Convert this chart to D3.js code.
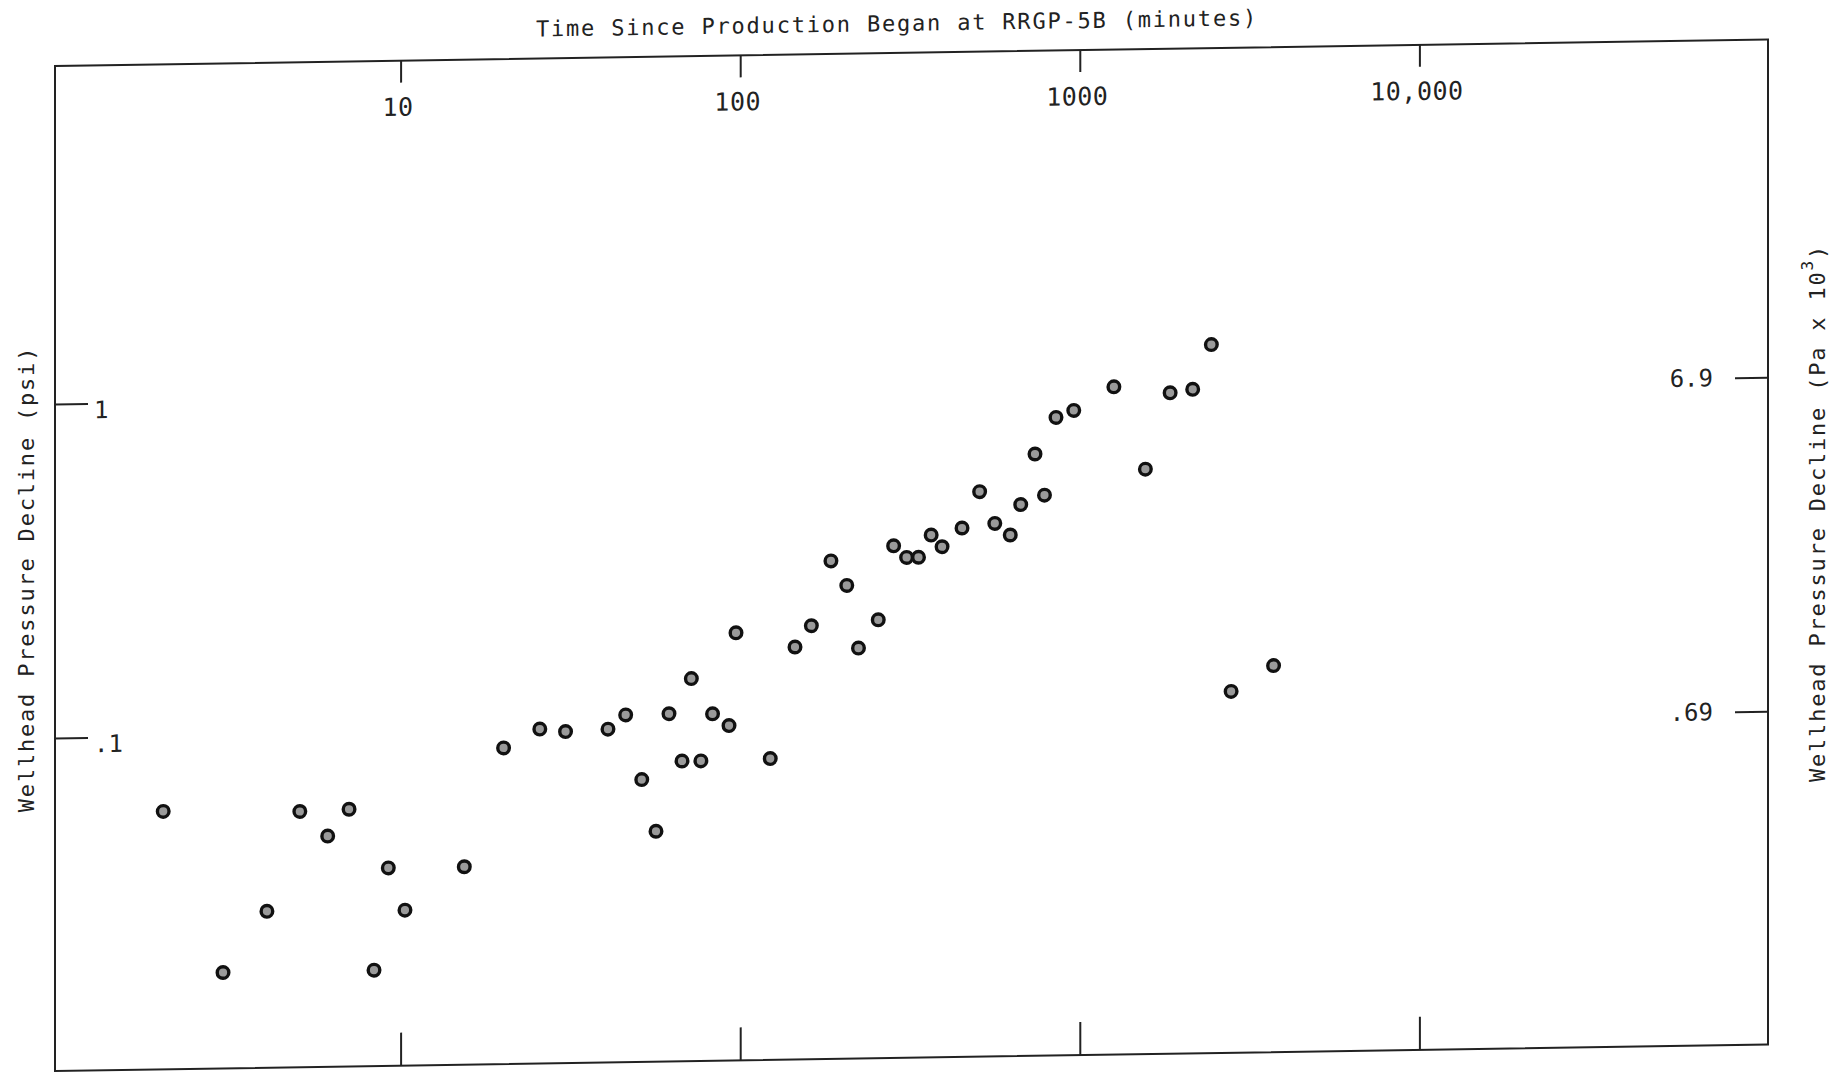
<!DOCTYPE html>
<html>
<head>
<meta charset="utf-8">
<script src="https://cdn.jsdelivr.net/npm/d3@7"></script>
<style>
  html, body { margin: 0; padding: 0; background: #fff; }
  svg { display: block; }
</style>
</head>
<body>
<svg id="chart" width="1844" height="1077"></svg>
<script>
/* DATA */
var minutes = [2.0, 3.0, 4.04, 5.05, 6.1, 7.05, 8.35, 9.2, 10.3, 15.4,
	20.1, 25.7, 30.6, 40.8, 46, 51.3, 56.5, 61.7, 67.4, 71.8,
	76.6, 82.9, 92.7, 97.2, 122.6, 145, 162, 185, 206, 223,
	255, 283, 309, 335, 365, 393, 450, 507, 562, 624,
	670, 738, 787, 851, 960, 1260, 1560, 1845, 2150, 2440,
	2790, 3720];
var psi = [0.0596, 0.0195, 0.0296, 0.0587, 0.0494, 0.0593, 0.0195, 0.0394, 0.0294, 0.0394,
	0.089, 0.101, 0.099, 0.1002, 0.1103, 0.0705, 0.0493, 0.1107, 0.0798, 0.1407,
	0.0797, 0.1101, 0.1014, 0.192, 0.0804, 0.173, 0.200, 0.312, 0.263, 0.1706,
	0.2068, 0.344, 0.317, 0.317, 0.369, 0.340, 0.386, 0.495, 0.397, 0.366,
	0.451, 0.638, 0.480, 0.819, 0.858, 1.005, 0.568, 0.959, 0.980, 1.331,
	0.1216, 0.1446];

var xTicks = [10, 100, 1000, 10000];
var xTickLabels = ["10", "100", "1000", "10,000"];
var psiTicks = [1, 0.1];
var psiTickLabels = ["1", ".1"];
var kpaTicks = [6.9, 0.69];
var kpaTickLabels = ["6.9", ".69"];
var PSI_TO_KPA = 6.895;

/* LAYOUT */
var frame = { left: 55, right: 1768, top: 66, bottom: 1071 };
var skew = -0.888; // the scan is slightly tilted
var ink = "#222";
var mono = "'DejaVu Sans Mono', 'Liberation Mono', monospace";

var svg = d3.select("#chart");

/* SCALES */
var x = d3.scaleLog().domain([1, 1e5]).range([61, 1759]);
var y = d3.scaleLog().domain([0.01, 10]).range([1072, 70]);
var yKpa = d3.scaleLog()
	.domain([0.01 * PSI_TO_KPA, 10 * PSI_TO_KPA])
	.range(y.range());

var plot = svg.append("g")
	.attr("transform", `translate(${frame.left},0) skewY(${skew}) translate(${-frame.left},0)`);

/* FRAME */
plot.append("rect")
	.attr("x", frame.left)
	.attr("y", frame.top)
	.attr("width", frame.right - frame.left)
	.attr("height", frame.bottom - frame.top)
	.attr("fill", "none")
	.attr("stroke", ink)
	.attr("stroke-width", 2);

/* TITLE */
plot.append("text")
	.attr("x", 897)
	.attr("y", 44)
	.attr("text-anchor", "middle")
	.attr("font-family", mono)
	.attr("font-size", 22)
	.attr("letter-spacing", 1.8)
	.attr("fill", ink)
	.text("Time Since Production Began at RRGP-5B (minutes)");

/* AXES */
function styleAxis(g, size) {
	g.select(".domain").remove();
	g.selectAll(".tick line").attr("stroke", ink).attr("stroke-width", 2);
	g.selectAll(".tick text")
		.attr("fill", ink)
		.attr("font-family", mono)
		.attr("font-size", size);
}

plot.append("g")
	.attr("transform", `translate(0,${frame.top})`)
	.call(d3.axisTop(x)
		.tickValues(xTicks)
		.tickFormat(function (d, i) { return xTickLabels[i]; })
		.tickSize(-22)
		.tickPadding(-55))
	.call(styleAxis, 25)
	.selectAll(".tick text").attr("letter-spacing", 0.5).attr("dx", -3);

plot.append("g")
	.attr("transform", `translate(0,${frame.bottom})`)
	.call(d3.axisBottom(x)
		.tickValues(xTicks)
		.tickFormat(function () { return ""; })
		.tickSize(-33))
	.call(styleAxis, 25);

plot.append("g")
	.attr("transform", `translate(${frame.left},0)`)
	.call(d3.axisRight(y)
		.tickValues(psiTicks)
		.tickFormat(function (d, i) { return psiTickLabels[i]; })
		.tickSize(33)
		.tickPadding(6))
	.call(styleAxis, 24)
	.selectAll(".tick text").attr("dy", "0.6em");

plot.append("g")
	.attr("transform", `translate(${frame.right},0)`)
	.call(d3.axisLeft(yKpa)
		.tickValues(kpaTicks)
		.tickFormat(function (d, i) { return kpaTickLabels[i]; })
		.tickSize(33)
		.tickPadding(22))
	.call(styleAxis, 24);

/* POINTS */
plot.append("g")
	.selectAll("circle")
	.data(minutes)
	.enter()
	.append("circle")
	.attr("cx", function (d) { return x(d); })
	.attr("cy", function (d, i) { return y(psi[i]); })
	.attr("r", 5.8)
	.attr("fill", "#9a9a9a")
	.attr("stroke", "#111")
	.attr("stroke-width", 3.4);

/* AXIS TITLES */
svg.append("text")
	.attr("transform", "translate(26,579) rotate(-90)")
	.attr("text-anchor", "middle")
	.attr("dominant-baseline", "central")
	.attr("font-family", mono)
	.attr("font-size", 22)
	.attr("letter-spacing", 1.8)
	.attr("fill", ink)
	.text("Wellhead Pressure Decline (psi)");

var rightTitle = svg.append("text")
	.attr("transform", "translate(1817,513) rotate(-90)")
	.attr("text-anchor", "middle")
	.attr("dominant-baseline", "central")
	.attr("font-family", mono)
	.attr("font-size", 22)
	.attr("letter-spacing", 1.8)
	.attr("fill", ink);
rightTitle.append("tspan").text("Wellhead Pressure Decline (Pa x 10");
rightTitle.append("tspan").attr("dy", -10).attr("font-size", 16).text("3");
rightTitle.append("tspan").attr("dy", 10).text(")");
</script>
</body>
</html>
